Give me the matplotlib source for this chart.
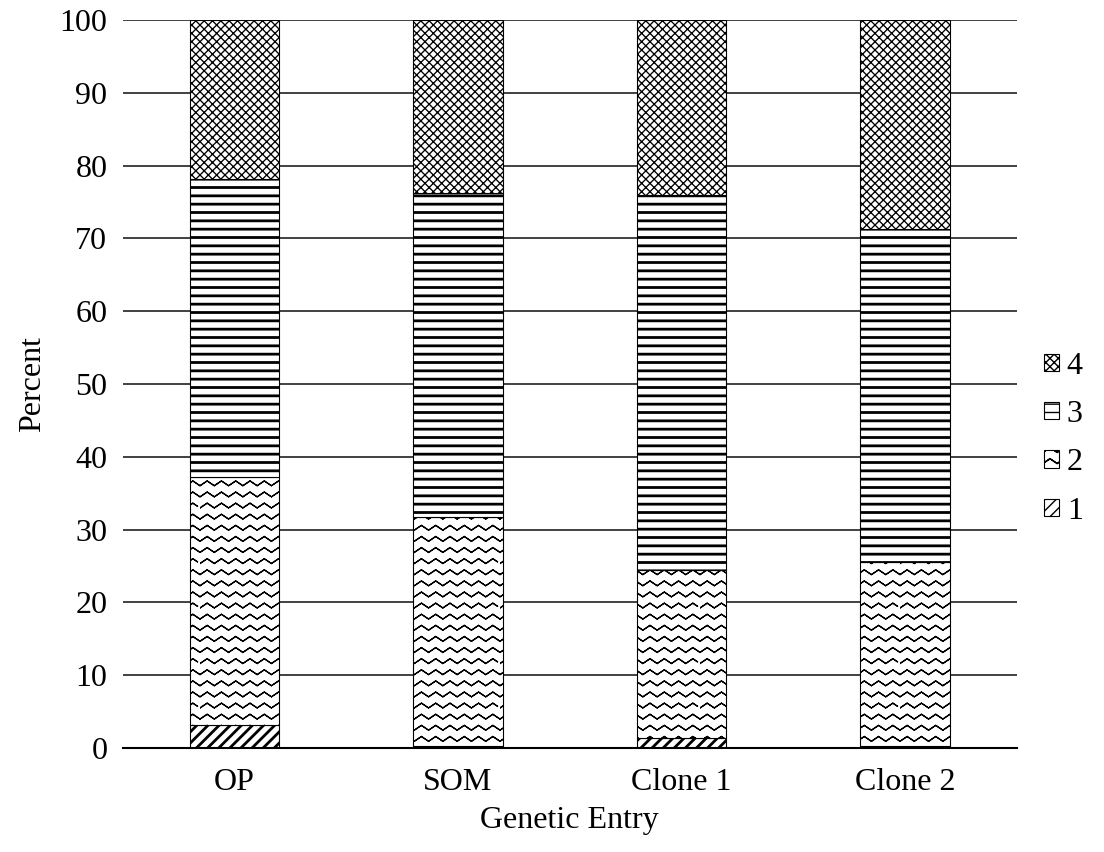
import warnings
import matplotlib.pyplot as plt
import matplotlib.hatch as mhatch
from matplotlib.path import Path
import numpy as np

warnings.filterwarnings('ignore')
plt.rcParams['font.family'] = ['Liberation Serif', 'DejaVu Serif']

entries = ['OP', 'SOM', 'Clone 1', 'Clone 2']
score1 = [3.2, 0.3, 1.4, 0.3]
score2 = [34.0, 31.5, 23.1, 25.3]
score3 = [40.9, 44.4, 51.5, 45.7]
score4 = [21.9, 23.8, 24.0, 28.7]


# zigzag fill like the Excel "wave" pattern ('z' in the hatch string)
# each row goes out and back on itself so agg's fill of the hatch path has no area
class ZigZagHatch(mhatch.HatchPatternBase):
    def __init__(self, hatch, density):
        self.num_rows = int(hatch.count('z') * density * 0.75)
        self.teeth = 7
        self.num_vertices = self.num_rows * (2 * (2 * self.teeth + 1) - 1)

    def set_vertices_and_codes(self, vertices, codes):
        n = 2 * self.teeth + 1
        m = 2 * n - 1
        xs = np.linspace(0, 1, n)
        for i in range(self.num_rows):
            y0 = (i + 0.5) / self.num_rows
            ys = y0 + 0.024 * np.where(np.arange(n) % 2 == 0, -1, 1)
            vertices[i * m:(i + 1) * m, 0] = np.concatenate([xs, xs[-2::-1]])
            vertices[i * m:(i + 1) * m, 1] = np.concatenate([ys, ys[-2::-1]])
            codes[i * m] = Path.MOVETO
            codes[i * m + 1:(i + 1) * m] = Path.LINETO


mhatch._hatch_types.append(ZigZagHatch)

series = [('1', score1, '///', 2.0),
          ('2', score2, 'zz', 0.9),
          ('3', score3, '--', 2.0),
          ('4', score4, 'xxxx', 0.95)]

fig = plt.figure(figsize=(11.04, 8.52), dpi=100)
ax = fig.add_axes([0.111, 0.122, 0.81, 0.8545])

x = np.arange(len(entries))
bottom = np.zeros(len(entries))
handles = []
for label, vals, hatch, hlw in series:
    with plt.rc_context({'hatch.linewidth': hlw}):
        b = ax.bar(x, vals, 0.4, bottom=bottom, color='white', edgecolor='black',
                   linewidth=0.8, hatch=hatch, label=label, zorder=3)
    handles.append(b)
    bottom += np.array(vals)

ax.set_xlim(-0.5, 3.5)
ax.set_ylim(0, 100)
ax.set_yticks(range(0, 101, 10))
ax.set_xticks(x)
ax.set_xticklabels(entries)
ax.tick_params(axis='both', length=0, labelsize=23)
ax.tick_params(axis='y', pad=11)
ax.tick_params(axis='x', pad=14)
ax.grid(axis='y', color='#333333', linewidth=1.3, zorder=0)
for s in ['top', 'right', 'left']:
    ax.spines[s].set_visible(False)
ax.spines['bottom'].set_linewidth(1.5)
ax.spines['bottom'].set_zorder(4)

ax.set_xlabel('Genetic Entry', fontsize=23, labelpad=7)
ax.set_ylabel('Percent', fontsize=23, labelpad=9)

fig.legend(handles[::-1], [h.get_label() for h in handles[::-1]],
           loc='center left', bbox_to_anchor=(0.92, 0.485), frameon=False,
           fontsize=23, handlelength=0.45, handleheight=0.45, handletextpad=0.25,
           labelspacing=0.6)

fig.savefig('out.png', dpi=100)
